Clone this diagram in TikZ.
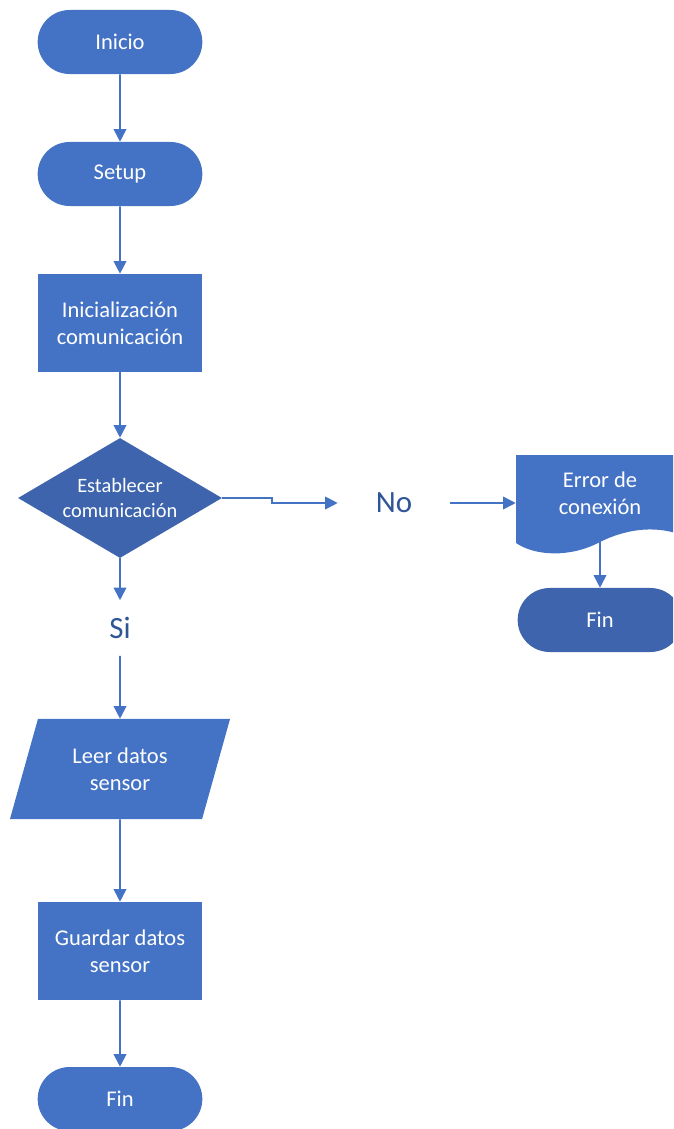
\documentclass[tikz,border=0pt]{standalone}
\usepackage{fontspec}
\setmainfont{Carlito}
\usetikzlibrary{shapes.geometric,shapes.misc,arrows.meta}
\definecolor{azul}{HTML}{4472C4}
\definecolor{azuloscuro}{HTML}{3D64AD}
\definecolor{azultexto}{HTML}{2F5597}
\begin{document}
\begin{tikzpicture}[x=0.025cm,y=-0.025cm]
\tikzstyle{every node}=[text=white,align=center,font=\fontsize{16}{19.5}\selectfont];
\tikzstyle{terminal}=[rounded rectangle,fill=azul,minimum width=4.35cm,minimum height=1.6cm];
\tikzstyle{proceso}=[rectangle,fill=azul,minimum width=4.1cm,minimum height=2.45cm];
\tikzstyle{decision}=[diamond,aspect=1.7,fill=azuloscuro,minimum width=5.1cm,minimum height=3cm,inner sep=0pt,font=\fontsize{14.5}{18}\selectfont];
\tikzstyle{datos}=[trapezium,trapezium left angle=62,trapezium right angle=118,trapezium stretches body,fill=azul,minimum width=5.5cm,minimum height=2.5cm];
\tikzstyle{documento}=[minimum width=4.2cm,minimum height=1.9cm];
\tikzstyle{etiqueta}=[text=azultexto,font=\fontsize{22}{26}\selectfont];
\tikzstyle{flecha}=[draw=azul,line width=1.3pt,-{Triangle[length=9pt,width=9pt]}];
\useasboundingbox (0,0) rectangle (673,1129);
\clip (0,0) rectangle (673,1129);
\node[terminal] (inicio) at (120,42) {Inicio};
\node[terminal] (setup) at (120,174) {Setup};
\node[proceso] (inicializacion) at (120,323) {Inicialización\\comunicación};
\node[decision] (establecer) at (120,498) {Establecer\\comunicación};
\node[etiqueta,minimum height=1.375cm] (si) at (120,628) {Si};
\node[datos] (leer) at (120,769) {Leer datos\\sensor};
\node[proceso] (guardar) at (120,951) {Guardar datos\\sensor};
\node[terminal] (fin) at (120,1099) {Fin};
\node[etiqueta,minimum width=2.8cm] (no) at (394,503) {No};
\fill[azul] (516,455) -- (684,455) -- (684,536) .. controls (660,526) and (630,527) .. (600,542)
  .. controls (570,558) and (535,556) .. (516,543) -- cycle;
\node[documento] (error) at (600,493) {Error de\\conexión};
\coordinate (errorbase) at (600,542);
\node[terminal,fill=azuloscuro] (finerror) at (600,620) {Fin};
\draw[flecha] (inicio) -- (setup);
\draw[flecha] (setup) -- (inicializacion);
\draw[flecha] (inicializacion) -- (establecer);
\draw[flecha] (establecer) -- (si);
\draw[flecha] (si) -- (leer);
\draw[flecha] (leer) -- (guardar);
\draw[flecha] (guardar) -- (fin);
\draw[flecha] (establecer.east) -- ++(50,0) |- (no);
\draw[flecha] (no) -- (no -| error.west);
\draw[flecha] (errorbase) -- (finerror);
\end{tikzpicture}
\end{document}
